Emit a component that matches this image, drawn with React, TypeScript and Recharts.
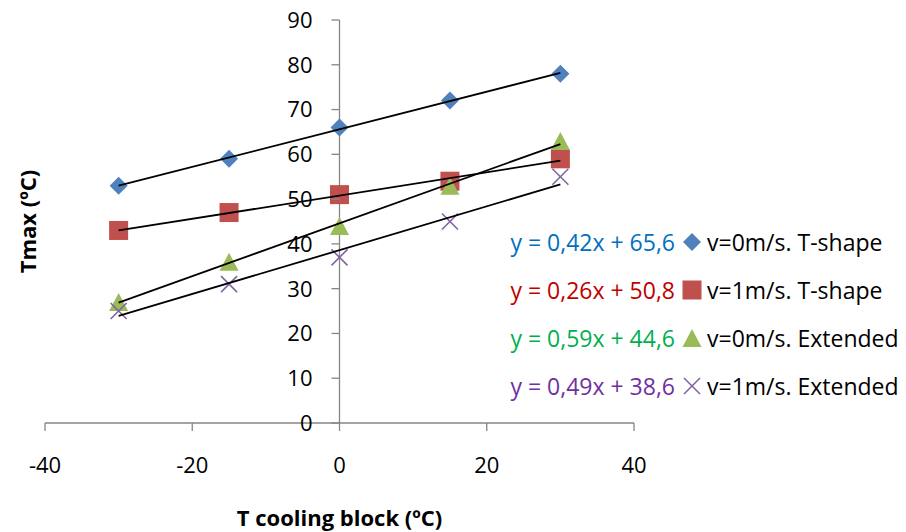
import React from 'react';
import { ScatterChart, Scatter, XAxis, YAxis, ReferenceLine, Legend } from 'recharts';

// Cooling block temperature (ºC)
const coolingTemps = [-30, -15, 0, 15, 30];

// Maximum temperature (ºC) per configuration
const tShapeStill = [53, 59, 66, 72, 78];
const tShapeWind = [43, 47, 51, 54, 59];
const extendedStill = [27, 36, 44, 53, 63];
const extendedWind = [25, 31, 37, 45, 55];

// Linear trendline coefficients (y = a·x + b)
const slopes = [0.42, 0.26, 0.59, 0.49];
const intercepts = [65.6, 50.8, 44.6, 38.6];
const trendRange = [-30, 30];

const seriesNames = [
  'v=0m/s. T-shape',
  'v=1m/s. T-shape',
  'v=0m/s. Extended',
  'v=1m/s. Extended',
];
const equationLabels = [
  'y = 0,42x + 65,6',
  'y = 0,26x + 50,8',
  'y = 0,59x + 44,6',
  'y = 0,49x + 38,6',
];

const xTicks = [-40, -20, 0, 20, 40];
const yTicks = [0, 10, 20, 30, 40, 50, 60, 70, 80, 90];

const markerColors = ['#4F81BD', '#C0504D', '#9BBB59', '#8064A2'];
const equationColors = ['#0070C0', '#C00000', '#00B050', '#7030A0'];
const shapes = ['diamond', 'square', 'triangle', 'cross'];

const FONT = '"Open Sans", "Liberation Sans", sans-serif';
const AXIS_COLOR = '#868686';
const TICK_FONT = 22;
const LEGEND_FONT = 23;
const TITLE_FONT = 22;

const W = 906;
const H = 532;
const MARGIN = { top: 20, right: 272, bottom: 49, left: 40 };
const Y_AXIS_W = 5;
const X_AXIS_H = 60;
const X_DOMAIN: [number, number] = [-40, 40];
const Y_DOMAIN: [number, number] = [0, 90];

const plotLeft = MARGIN.left + Y_AXIS_W;
const plotWidth = W - plotLeft - MARGIN.right;
// Horizontal pixel position where the vertical axis crosses (x = 0)
const yAxisCrossX = plotLeft + ((0 - X_DOMAIN[0]) / (X_DOMAIN[1] - X_DOMAIN[0])) * plotWidth;

const toPoints = (ys: number[]) => coolingTemps.map((x, i) => ({ x, y: ys[i] }));
const seriesData = [tShapeStill, tShapeWind, extendedStill, extendedWind].map(toPoints);
const trendData = slopes.map((a, i) => trendRange.map((x) => ({ x, y: a * x + intercepts[i] })));

function Marker({ kind, cx, cy, color }: { kind: string; cx: number; cy: number; color: string }) {
  if (kind === 'diamond') {
    const r = 9;
    return <polygon points={`${cx},${cy - r} ${cx + r},${cy} ${cx},${cy + r} ${cx - r},${cy}`} fill={color} />;
  }
  if (kind === 'square') {
    const s = 19;
    return <rect x={cx - s / 2} y={cy - s / 2} width={s} height={s} fill={color} />;
  }
  if (kind === 'triangle') {
    const w = 19;
    const h = 18;
    return (
      <polygon
        points={`${cx},${cy - h / 2} ${cx + w / 2},${cy + h / 2} ${cx - w / 2},${cy + h / 2}`}
        fill={color}
      />
    );
  }
  const r = 8;
  return (
    <g stroke={color} strokeWidth={1.6}>
      <line x1={cx - r} y1={cy - r} x2={cx + r} y2={cy + r} />
      <line x1={cx - r} y1={cy + r} x2={cx + r} y2={cy - r} />
    </g>
  );
}

function YTick(props: any) {
  const { y, payload } = props;
  return (
    <g>
      <line x1={yAxisCrossX - 8} y1={y} x2={yAxisCrossX} y2={y} stroke={AXIS_COLOR} strokeWidth={1.3} />
      <text
        x={yAxisCrossX - 27}
        y={y}
        dy="0.36em"
        textAnchor="end"
        fontFamily={FONT}
        fontSize={TICK_FONT}
        fill="#000"
      >
        {payload.value}
      </text>
    </g>
  );
}

function LegendBox() {
  return (
    <div style={{ fontFamily: FONT, fontSize: LEGEND_FONT, lineHeight: '48px' }}>
      {seriesNames.map((name, i) => (
        <div key={name} style={{ display: 'flex', alignItems: 'center', height: 48, whiteSpace: 'nowrap' }}>
          <span style={{ width: 195, textAlign: 'right', color: equationColors[i] }}>{equationLabels[i]}</span>
          <svg width={20} height={20} style={{ marginLeft: 7 }}>
            <Marker kind={shapes[i]} cx={10} cy={10} color={markerColors[i]} />
          </svg>
          <span style={{ marginLeft: 5, color: '#000' }}>{name}</span>
        </div>
      ))}
    </div>
  );
}

export default function App() {
  return (
    <div style={{ position: 'absolute', left: 0, top: 0, width: W, height: H, background: '#fff' }}>
      <ScatterChart width={W} height={H} margin={MARGIN}>
        <XAxis
          type="number"
          dataKey="x"
          domain={X_DOMAIN}
          ticks={xTicks}
          height={X_AXIS_H}
          tickSize={8}
          tickMargin={26}
          stroke={AXIS_COLOR}
          axisLine={{ stroke: AXIS_COLOR, strokeWidth: 1.3 }}
          tickLine={{ stroke: AXIS_COLOR, strokeWidth: 1.3 }}
          tick={{ fill: '#000', fontSize: TICK_FONT, fontFamily: FONT }}
          label={(props: any) => {
            const vb = props.viewBox || {};
            const cx = plotLeft + plotWidth / 2;
            return (
              <text
                x={cx}
                y={517}
                textAnchor="middle"
                dominantBaseline="central"
                fontFamily={FONT}
                fontSize={TITLE_FONT}
                fontWeight={700}
                fill="#000"
                data-w={vb.width}
              >
                T cooling block (ºC)
              </text>
            );
          }}
        />
        <YAxis
          type="number"
          dataKey="y"
          domain={Y_DOMAIN}
          ticks={yTicks}
          width={Y_AXIS_W}
          axisLine={false}
          tickLine={false}
          tick={<YTick />}
          label={(props: any) => {
            const vb = props.viewBox || {};
            const cx = 27;
            const cy = vb.y + vb.height / 2;
            return (
              <text
                x={cx}
                y={cy}
                transform={`rotate(-90 ${cx} ${cy})`}
                textAnchor="middle"
                dominantBaseline="central"
                fontFamily={FONT}
                fontSize={TITLE_FONT}
                fontWeight={700}
                fill="#000"
              >
                Tmax (ºC)
              </text>
            );
          }}
        />
        <ReferenceLine x={0} stroke={AXIS_COLOR} strokeWidth={1.3} ifOverflow="extendDomain" />
        {seriesData.map((data, i) => (
          <Scatter
            key={seriesNames[i]}
            name={seriesNames[i]}
            data={data}
            isAnimationActive={false}
            shape={(p: any) => <Marker kind={shapes[i]} cx={p.cx} cy={p.cy} color={markerColors[i]} />}
          />
        ))}
        {trendData.map((data, i) => (
          <Scatter
            key={`trend-${i}`}
            name={`trend-${i}`}
            data={data}
            isAnimationActive={false}
            line={{ stroke: '#000', strokeWidth: 1.8 }}
            shape={() => <g />}
            legendType="none"
          />
        ))}
        <Legend
          content={() => <LegendBox />}
          layout="horizontal"
          verticalAlign="middle"
          align="center"
          wrapperStyle={{ position: 'absolute', left: 480, top: 218, width: 426 }}
        />
      </ScatterChart>
    </div>
  );
}
